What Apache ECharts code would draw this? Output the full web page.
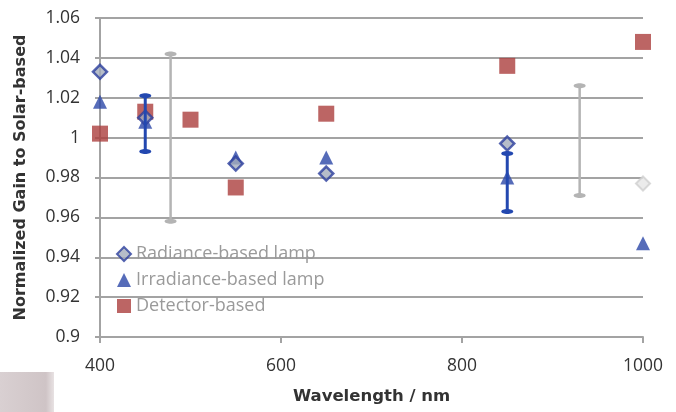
<!DOCTYPE html>
<html><head><meta charset="utf-8">
<script src="https://cdn.jsdelivr.net/npm/echarts@6/dist/echarts.min.js"></script>
<style>html,body{margin:0;padding:0;background:#fff}#c{width:676px;height:412px}</style>
</head><body><div id="c"></div>
<script>
const xTicks = [400, 600, 800, 1000];
const radianceX = [400, 450, 550, 650, 850];
const radianceY = [1.033, 1.010, 0.987, 0.982, 0.997];
const irradianceX = [400, 450, 550, 650, 850, 1000];
const irradianceY = [1.018, 1.008, 0.990, 0.990, 0.980, 0.947];
const detectorX = [400, 450, 500, 550, 650, 850, 1000];
const detectorY = [1.002, 1.013, 1.009, 0.975, 1.012, 1.036, 1.048];
const blueErrX = [450, 850];
const blueErrLow = [0.993, 0.963];
const blueErrHigh = [1.021, 0.992];
const greyErrX = [478, 930];
const greyErrLow = [0.958, 0.971];
const greyErrHigh = [1.042, 1.026];
const faintX = [1000];
const faintY = [0.977];

const zip = (a, b) => a.map((v, i) => [v, b[i]]);
const zip3 = (a, b, c) => a.map((v, i) => [v, b[i], c[i]]);

function errRender(color, width) {
  return function (params, api) {
    const x = api.value(0);
    const lo = api.coord([x, api.value(1)]);
    const hi = api.coord([x, api.value(2)]);
    const cw = 6;
    return {
      type: 'group',
      children: [
        {type: 'line', shape: {x1: lo[0], y1: lo[1], x2: hi[0], y2: hi[1]}, style: {stroke: color, lineWidth: width}},
        {type: 'ellipse', shape: {cx: lo[0], cy: lo[1], rx: cw, ry: 2.5}, style: {fill: color}},
        {type: 'ellipse', shape: {cx: hi[0], cy: hi[1], rx: cw, ry: 2.5}, style: {fill: color}}
      ]
    };
  };
}

const font = "'Open Sans', 'Liberation Sans', sans-serif";
const titleFont = "'DejaVu Sans', sans-serif";
const chart = echarts.init(document.getElementById('c'));
chart.setOption({
  animation: false,
  textStyle: {fontFamily: font},
  grid: {left: 100, right: 33, top: 18, bottom: 75},
  xAxis: {
    type: 'value', min: 400, max: 1000, interval: 200,
    name: 'Wavelength / nm', nameLocation: 'middle', nameGap: 51,
    nameTextStyle: {fontSize: 16.5, fontWeight: 'bold', color: '#333', fontFamily: titleFont},
    axisLine: {show: true, lineStyle: {color: '#a3a3a3', width: 2}},
    axisTick: {show: true, length: 6, lineStyle: {color: '#a3a3a3', width: 2}},
    axisLabel: {fontSize: 17.5, color: '#333', margin: 20, fontFamily: font,
      formatter: v => xTicks.includes(v) ? String(v) : ''},
    splitLine: {show: false}
  },
  yAxis: {
    type: 'value', min: 0.9, max: 1.06, interval: 0.02,
    name: 'Normalized Gain to Solar-based', nameLocation: 'middle', nameGap: 71,
    nameTextStyle: {fontSize: 16, fontWeight: 'bold', color: '#333', fontFamily: titleFont},
    axisLine: {show: true, lineStyle: {color: '#a3a3a3', width: 2}},
    axisTick: {show: true, length: 5, lineStyle: {color: '#a3a3a3', width: 2}},
    axisLabel: {fontSize: 17.5, color: '#333', margin: 20, fontFamily: font,
      formatter: v => String(Math.round(v * 100) / 100)},
    splitLine: {show: true, lineStyle: {color: '#a3a3a3', width: 2}}
  },
  legend: {
    data: ['Radiance-based lamp', 'Irradiance-based lamp', 'Detector-based'],
    orient: 'vertical', left: 111, top: 240, itemGap: 8, itemWidth: 14, itemHeight: 14,
    textStyle: {fontSize: 18, color: '#9a9a9a', fontFamily: font, padding: [0, 0, 0, 0]}
  },
  series: [
    {type: 'custom', name: 'greyErr', data: zip3(greyErrX, greyErrLow, greyErrHigh),
     renderItem: errRender('#b4b4b4', 2.5), z: 2},
    {type: 'scatter', name: 'faint', data: zip(faintX, faintY), symbol: 'diamond', symbolSize: 14,
     itemStyle: {color: '#e6e6e6', borderColor: '#cfcfcf', borderWidth: 2}, z: 3},
    {type: 'scatter', name: 'Detector-based', data: zip(detectorX, detectorY), symbol: 'rect', symbolSize: 16,
     itemStyle: {color: '#ab3f3d'}, z: 4},
    {type: 'scatter', name: 'Irradiance-based lamp', data: zip(irradianceX, irradianceY), symbol: 'triangle', symbolSize: 14,
     itemStyle: {color: '#2c47a8'}, z: 5},
    {type: 'scatter', name: 'Radiance-based lamp', data: zip(radianceX, radianceY), symbol: 'diamond', symbolSize: 14,
     itemStyle: {color: '#a4acbc', borderColor: '#2c3f9e', borderWidth: 2.5}, z: 6},
    {type: 'custom', name: 'blueErr', data: zip3(blueErrX, blueErrLow, blueErrHigh),
     renderItem: errRender('#2348b0', 3), z: 7}
  ],
  graphic: [{
    type: 'rect', left: 0, top: 372, shape: {width: 54, height: 40},
    style: {fill: new echarts.graphic.LinearGradient(0, 0, 1, 0, [
      {offset: 0, color: '#d9d0d2'}, {offset: 0.85, color: '#cfc4c6'}, {offset: 1, color: '#e8e2e3'}])},
    z: -1
  }]
});
</script></body></html>
